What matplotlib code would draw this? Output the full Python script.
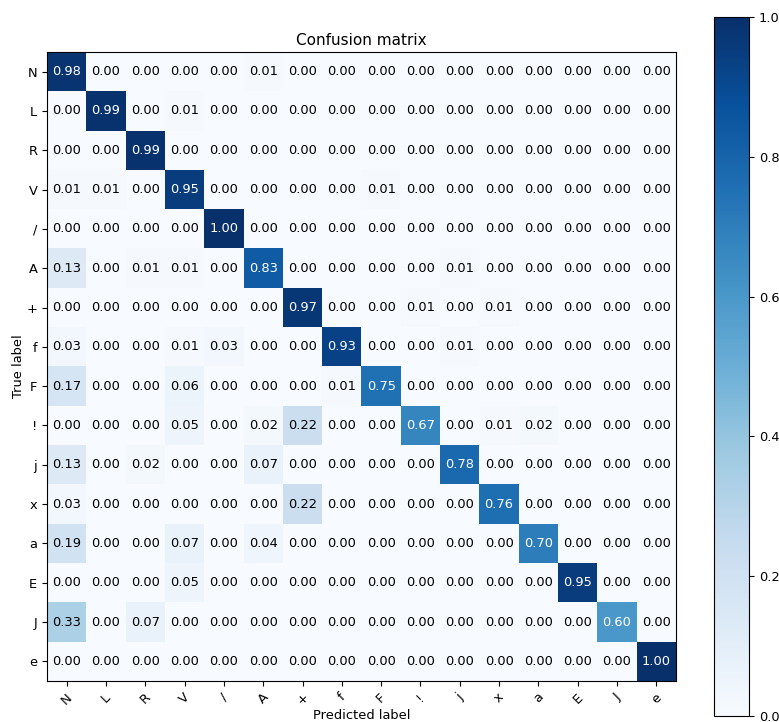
import numpy as np
import matplotlib
matplotlib.use("Agg")
import matplotlib.pyplot as plt

classes = ["N", "L", "R", "V", "/", "A", "+", "f", "F", "!", "j", "x", "a", "E", "J", "e"]

row_N = [0.98, 0.00, 0.00, 0.00, 0.00, 0.01, 0.00, 0.00, 0.00, 0.00, 0.00, 0.00, 0.00, 0.00, 0.00, 0.00]
row_L = [0.00, 0.99, 0.00, 0.01, 0.00, 0.00, 0.00, 0.00, 0.00, 0.00, 0.00, 0.00, 0.00, 0.00, 0.00, 0.00]
row_R = [0.00, 0.00, 0.99, 0.00, 0.00, 0.00, 0.00, 0.00, 0.00, 0.00, 0.00, 0.00, 0.00, 0.00, 0.00, 0.00]
row_V = [0.01, 0.01, 0.00, 0.95, 0.00, 0.00, 0.00, 0.00, 0.01, 0.00, 0.00, 0.00, 0.00, 0.00, 0.00, 0.00]
row_slash = [0.00, 0.00, 0.00, 0.00, 1.00, 0.00, 0.00, 0.00, 0.00, 0.00, 0.00, 0.00, 0.00, 0.00, 0.00, 0.00]
row_A = [0.13, 0.00, 0.01, 0.01, 0.00, 0.83, 0.00, 0.00, 0.00, 0.00, 0.01, 0.00, 0.00, 0.00, 0.00, 0.00]
row_plus = [0.00, 0.00, 0.00, 0.00, 0.00, 0.00, 0.97, 0.00, 0.00, 0.01, 0.00, 0.01, 0.00, 0.00, 0.00, 0.00]
row_f = [0.03, 0.00, 0.00, 0.01, 0.03, 0.00, 0.00, 0.93, 0.00, 0.00, 0.01, 0.00, 0.00, 0.00, 0.00, 0.00]
row_F = [0.17, 0.00, 0.00, 0.06, 0.00, 0.00, 0.00, 0.01, 0.75, 0.00, 0.00, 0.00, 0.00, 0.00, 0.00, 0.00]
row_excl = [0.00, 0.00, 0.00, 0.05, 0.00, 0.02, 0.22, 0.00, 0.00, 0.67, 0.00, 0.01, 0.02, 0.00, 0.00, 0.00]
row_j = [0.13, 0.00, 0.02, 0.00, 0.00, 0.07, 0.00, 0.00, 0.00, 0.00, 0.78, 0.00, 0.00, 0.00, 0.00, 0.00]
row_x = [0.03, 0.00, 0.00, 0.00, 0.00, 0.00, 0.22, 0.00, 0.00, 0.00, 0.00, 0.76, 0.00, 0.00, 0.00, 0.00]
row_a = [0.19, 0.00, 0.00, 0.07, 0.00, 0.04, 0.00, 0.00, 0.00, 0.00, 0.00, 0.00, 0.70, 0.00, 0.00, 0.00]
row_E = [0.00, 0.00, 0.00, 0.05, 0.00, 0.00, 0.00, 0.00, 0.00, 0.00, 0.00, 0.00, 0.00, 0.95, 0.00, 0.00]
row_J = [0.33, 0.00, 0.07, 0.00, 0.00, 0.00, 0.00, 0.00, 0.00, 0.00, 0.00, 0.00, 0.00, 0.00, 0.60, 0.00]
row_e = [0.00, 0.00, 0.00, 0.00, 0.00, 0.00, 0.00, 0.00, 0.00, 0.00, 0.00, 0.00, 0.00, 0.00, 0.00, 1.00]

cm = np.array([row_N, row_L, row_R, row_V, row_slash, row_A, row_plus, row_f,
               row_F, row_excl, row_j, row_x, row_a, row_E, row_J, row_e])

fs = 9.4
plt.rcParams["font.family"] = ["DejaVu Sans"]
plt.rcParams["font.size"] = fs

fig = plt.figure(figsize=(7.79, 7.22), dpi=100)
W, H = 779, 722
ax = fig.add_axes([47 / W, 1 - 681 / H, 629 / W, 629 / H])
cax = fig.add_axes([714 / W, 1 - 716 / H, 35 / W, 699 / H])

im = ax.imshow(cm, interpolation="nearest", cmap=plt.cm.Blues, vmin=0, vmax=1, aspect="auto")
ax.set_title("Confusion matrix", fontsize=11, pad=5)
cb = fig.colorbar(im, cax=cax)
cb.set_ticks([0.0, 0.2, 0.4, 0.6, 0.8, 1.0])
cb.ax.tick_params(labelsize=fs)

ticks = np.arange(len(classes))
ax.set_xticks(ticks)
ax.set_xticklabels(classes, rotation=45)
ax.set_yticks(ticks)
ax.set_yticklabels(classes)

thresh = cm.max() / 2.0
for i in range(cm.shape[0]):
    for j in range(cm.shape[1]):
        ax.text(j, i, format(cm[i, j], ".2f"),
                ha="center", va="center", fontsize=fs,
                color="white" if cm[i, j] > thresh else "black")

ax.set_ylabel("True label", labelpad=1)
ax.set_xlabel("Predicted label", labelpad=1)

fig.savefig("out.png", dpi=100)
